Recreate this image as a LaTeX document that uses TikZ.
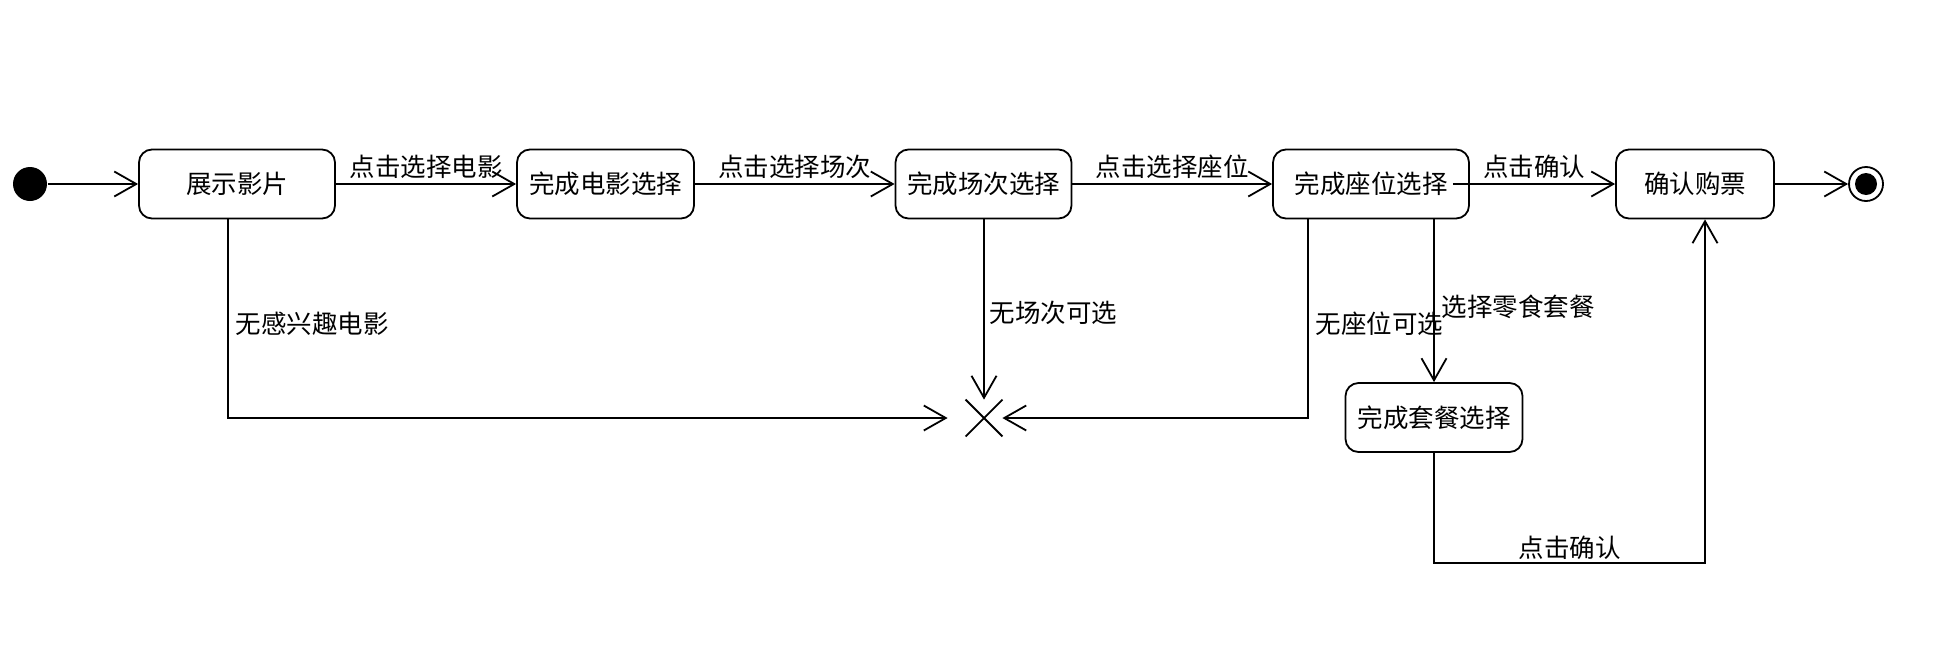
\documentclass[tikz,border=0pt]{standalone}
\usepackage{fontspec}
\newfontfamily\cjk{Noto Sans CJK SC}
\usetikzlibrary{arrows.meta,calc}
\begin{document}
\begin{tikzpicture}[x=1pt,y=-1pt,
  line width=1.8pt,
  >={Straight Barb[length=22pt,width=25pt]},
  txt/.style={font=\cjk\fontsize{25.5}{30}\selectfont},
  state/.style={draw, txt, rounded corners=13pt, minimum height=69pt, inner sep=0pt},
  lbl/.style={txt, inner sep=0pt},
]
\useasboundingbox (0,0) rectangle (1958,662);
% nodes
\node[circle, fill, minimum size=34pt, inner sep=0pt] (init) at (30,184) {};
\node[state, minimum width=196pt] (b1) at (237,184) {展示影片};
\node[state, minimum width=177pt] (b2) at (605.5,184) {完成电影选择};
\node[state, minimum width=176pt] (b3) at (983.5,184) {完成场次选择};
\node[state, minimum width=196pt] (b4) at (1371,184) {完成座位选择};
\node[state, minimum width=158pt] (b5) at (1695,184) {确认购票};
\node[state, minimum width=177pt] (b6) at (1434,417.5) {完成套餐选择};
\node[circle, draw, minimum size=34pt, inner sep=0pt] (fin) at (1866,184) {};
\fill (fin.center) circle (11pt);
\node[minimum size=35pt, inner sep=0pt] (x) at (984,418) {};
\draw (x.north west) -- (x.south east) (x.north east) -- (x.south west);
% connectors
\draw[->] (init) -- (b1);
\draw[->] (b1) -- node[lbl, yshift=17pt]{点击选择电影} (b2);
\draw[->] (b2) -- node[lbl, yshift=17pt]{点击选择场次} (b3);
\draw[->] (b3) -- node[lbl, yshift=17pt]{点击选择座位} (b4);
\draw[->] ([xshift=-17pt]b4.east) -- node[lbl, yshift=17pt]{点击确认} (b5);
\draw[->] (b5) -- (fin);
\draw[->] ([xshift=-9pt]b1.south) |- node[lbl, pos=0.25, anchor=west, xshift=7pt, yshift=-5pt]{无感兴趣电影} ([xshift=-18pt]x.west);
\draw[->] (b3.south -| x.north) -- node[lbl, anchor=west, xshift=5pt, yshift=-3.5pt]{无场次可选} (x.north);
\draw[->] ([xshift=-63pt]b4.south) |- node[lbl, pos=0.25, anchor=west, xshift=7pt, yshift=-5pt]{无座位可选} (x.east);
\draw[->] ([xshift=63pt]b4.south) -- node[lbl, anchor=west, xshift=7pt, yshift=-6pt]{选择零食套餐} (b6.north);
\draw[->] (b6.south) -- ++(0,110) -| node[lbl, pos=0.25, yshift=15pt]{点击确认} ([xshift=10pt]b5.south);
\end{tikzpicture}
\end{document}
